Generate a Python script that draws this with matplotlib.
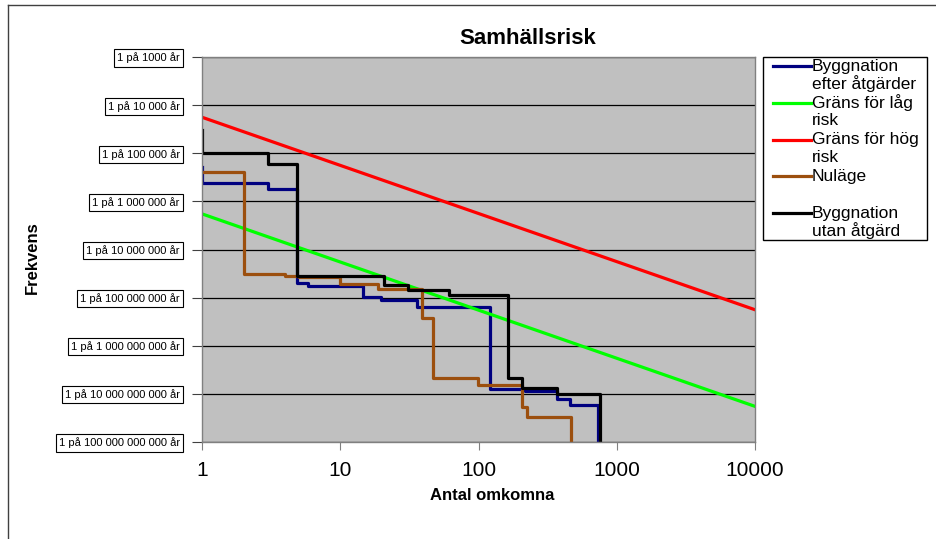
import matplotlib
matplotlib.use("Agg")
import matplotlib.pyplot as plt
from matplotlib.lines import Line2D
from matplotlib.patches import Rectangle

plt.rcParams['font.family'] = ['Liberation Sans', 'DejaVu Sans']

# --- data (N = antal omkomna, F = frekvens per år) ---
efter_x = [1, 1, 3, 4.85, 5.8, 14.7, 19.6, 36, 121, 217, 368, 459, 735]
efter_y = [5.3e-6, 2.38e-6, 1.78e-6, 2.0e-8, 1.75e-8, 1.05e-8, 8.9e-9, 6.4e-9,
           1.26e-10, 1.15e-10, 7.7e-11, 5.9e-11, 1e-12]

lag_x = [1, 10000]
lag_y = [5.5e-7, 5.5e-11]

hog_x = [1, 10000]
hog_y = [5.6e-5, 5.6e-9]

nulage_x = [1, 2, 4, 5, 10, 18.9, 38.8, 46.6, 98.6, 207, 223, 464]
nulage_y = [4.1e-6, 3.1e-8, 2.88e-8, 2.7e-8, 1.92e-8, 1.49e-8, 3.7e-9, 2.17e-10,
            1.53e-10, 5.4e-11, 3.35e-11, 1e-12]

utan_x = [1, 1, 3, 4.9, 20.7, 30.7, 61, 164, 205, 368, 757]
utan_y = [3.0e-5, 1.0e-5, 5.9e-6, 2.86e-8, 1.87e-8, 1.44e-8, 1.13e-8, 2.17e-10,
          1.31e-10, 1.0e-10, 1e-12]

x_ticks = [1, 10, 100, 1000, 10000]
x_ticklabels = ["1", "10", "100", "1000", "10000"]
y_ticks = [1e-3, 1e-4, 1e-5, 1e-6, 1e-7, 1e-8, 1e-9, 1e-10, 1e-11]
y_ticklabels = ["1 på 1000 år", "1 på 10 000 år", "1 på 100 000 år",
                "1 på 1 000 000 år", "1 på 10 000 000 år", "1 på 100 000 000 år",
                "1 på 1 000 000 000 år", "1 på 10 000 000 000 år",
                "1 på 100 000 000 000 år"]

labels = ["Byggnation\nefter åtgärder", "Gräns för låg\nrisk", "Gräns för hög\nrisk",
          "Nuläge", "Byggnation\nutan åtgärd"]
colors = ["#000080", "#00FF00", "#FF0000", "#9C4F0E", "#000000"]

W, H = 936, 539
fig = plt.figure(figsize=(W / 100, H / 100), dpi=100)
ax = fig.add_axes([202 / W, 1 - 442 / H, (755 - 202) / W, (442 - 57) / H])
ax.set_facecolor("#C0C0C0")

lw = 2.3
ax.plot(efter_x, efter_y, drawstyle="steps-post", color=colors[0], lw=lw)
ax.plot(lag_x, lag_y, color=colors[1], lw=lw)
ax.plot(hog_x, hog_y, color=colors[2], lw=lw)
ax.plot(nulage_x, nulage_y, drawstyle="steps-post", color=colors[3], lw=lw)
ax.plot(utan_x, utan_y, drawstyle="steps-post", color=colors[4], lw=lw)

ax.set_xscale("log")
ax.set_yscale("log")
ax.set_xlim(1, 10000)
ax.set_ylim(1e-11, 1e-3)
ax.set_xticks(x_ticks, x_ticklabels)
ax.set_yticks(y_ticks, y_ticklabels)
ax.minorticks_off()
ax.yaxis.grid(True, color="black", lw=0.9)
ax.set_axisbelow(True)

ax.tick_params(axis="x", labelsize=15, length=6, color="#808080", pad=8)
ax.tick_params(axis="y", labelsize=8, length=7, color="#404040", pad=9)
for lab in ax.get_yticklabels():
    lab.set_bbox(dict(facecolor="white", edgecolor="black", lw=0.8, pad=2.2))

for s in ax.spines.values():
    s.set_color("#808080")
    s.set_linewidth(1.0)

# titles
fig.text(527.5 / W, 1 - 38 / H, "Samhällsrisk", ha="center", va="center",
         fontsize=16, fontweight="bold")
fig.text(492 / W, 1 - 496 / H, "Antal omkomna", ha="center", va="center",
         fontsize=12, fontweight="bold")
fig.text(32.5 / W, 1 - 258 / H, "Frekvens", ha="center", va="center",
         fontsize=12, fontweight="bold", rotation=90)

# legend box drawn by hand
fig.add_artist(Rectangle((763 / W, 1 - 240 / H), 164 / W, 183 / H,
                         transform=fig.transFigure, fill=False,
                         edgecolor="black", lw=1))
for i, (lab, c) in enumerate(zip(labels, colors)):
    y0 = 66 + i * 36.8
    fig.add_artist(Line2D([773 / W, 811 / W], [1 - y0 / H, 1 - y0 / H],
                          transform=fig.transFigure, color=c, lw=lw))
    for j, line in enumerate(lab.split("\n")):
        fig.text(812 / W, 1 - (y0 + j * 17.5) / H, line, ha="left", va="center",
                 fontsize=12.5)

# outer chart frame
fig.add_artist(Line2D([8 / W, 8 / W], [0, 1 - 4.5 / H], transform=fig.transFigure,
                      color="#404040", lw=1))
fig.add_artist(Line2D([8 / W, 1], [1 - 4.5 / H, 1 - 4.5 / H], transform=fig.transFigure,
                      color="#404040", lw=1))

fig.savefig("out.png", dpi=100)
